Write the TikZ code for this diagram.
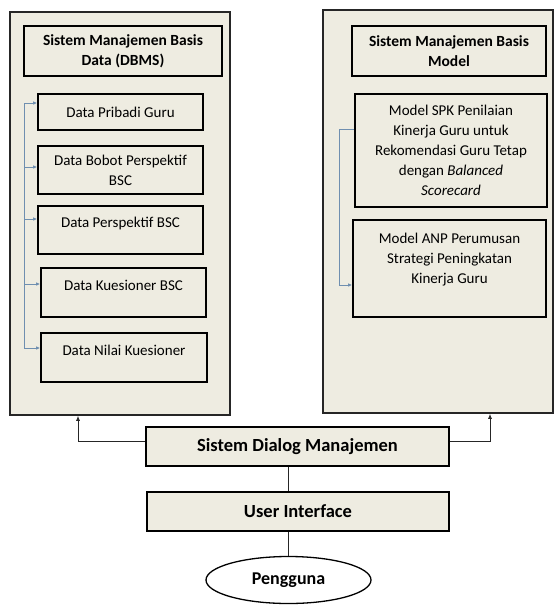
\documentclass[tikz,border=0pt]{standalone}
\usepackage{fontspec}
\setmainfont{Carlito}
\usepackage{tikz}
\usetikzlibrary{positioning,arrows.meta,shapes.geometric}
\definecolor{beige}{HTML}{EEECE1}
\definecolor{frame}{HTML}{262626}
\definecolor{steel}{HTML}{6F8FB0}
\newcommand{\fTitle}{\fontsize{15.5}{20}\selectfont}
\newcommand{\fText}{\fontsize{15}{20}\selectfont}
\newcommand{\fMain}{\fontsize{18.5}{22}\selectfont}

\begin{document}
\begin{tikzpicture}[x=1pt,y=-1pt,
  panel/.style={draw=frame,fill=beige,line width=1.6pt,inner sep=0pt},
  box/.style={draw=black,fill=beige,line width=1.6pt,align=center,inner sep=0pt,font=\fText},
  head/.style={box,font=\fTitle\bfseries,minimum height=50pt},
  raised/.style={text depth=15pt},
  link/.style={draw=steel,line width=0.8pt,{Latex[length=4pt,width=3.5pt]}-},
  up/.style={draw=frame,line width=0.8pt,-{Latex[length=5pt,width=4pt]}}]
  \useasboundingbox (0,0) rectangle (554,605);
  % two panels
  \node[panel,minimum width=220pt,minimum height=403pt] (dbms) at (120,213.5) {};
  \node[panel,minimum width=230pt,minimum height=403pt] (mbms) at (438,211.5) {};
  \node[head,minimum width=198pt] (dbmshead) at (123,51) {Sistem Manajemen Basis\\Data (DBMS)};
  \node[head,minimum width=194pt] (mbmshead) at (449,51) {Sistem Manajemen Basis\\Model};
  % data boxes
  \node[box,minimum width=165pt,minimum height=36pt] (pribadi) at (120.5,112) {Data Pribadi Guru};
  \node[box,minimum width=165pt,minimum height=48pt] (bobot) at (120.5,170) {Data Bobot Perspektif\\BSC};
  \node[box,raised,minimum width=165pt,minimum height=48pt] (persp) at (120.5,230) {Data Perspektif BSC};
  \node[box,raised,minimum width=165pt,minimum height=49pt] (kues) at (123.5,292.5) {Data Kuesioner BSC};
  \node[box,raised,minimum width=166pt,minimum height=49pt] (nilai) at (124,357.5) {Data Nilai Kuesioner};
  % model boxes
  \node[box,minimum width=192pt,minimum height=113pt] (spk) at (451,150.5)
    {Model SPK Penilaian\\Kinerja Guru untuk\\Rekomendasi Guru Tetap\\dengan \textit{Balanced}\\\textit{Scorecard}};
  \node[box,raised,text depth=21pt,minimum width=193pt,minimum height=97pt] (anp) at (449.5,268.5)
    {Model ANP Perumusan\\Strategi Peningkatan\\Kinerja Guru};
  \draw[link] ([yshift=9pt]pribadi.west) -- ++(-13,0) coordinate (ltop);
  \draw[link] ([yshift=3pt]bobot.west) -| (ltop);
  \draw[link] ([yshift=11pt]persp.west) -| (ltop);
  \draw[link] ([yshift=8.5pt]kues.west) -| (ltop);
  \draw[link] ([yshift=9.5pt]nilai.west) -| (ltop);
  \draw[link,-{Latex[length=4pt,width=3.5pt]}] ([yshift=21.5pt]spk.west) -- ++(-15,0) |- ([yshift=-16.5pt]anp.west);
  % bottom part
  \node[box,font=\fMain\bfseries,minimum width=303pt,minimum height=39pt] (dialog) at (297.5,446.5) {Sistem Dialog Manajemen};
  \node[box,font=\fMain\bfseries,minimum width=302pt,minimum height=39pt] (ui) at (298,511.5) {User Interface};
  \node[ellipse,draw=black,line width=1.3pt,fill=white,minimum width=165pt,minimum height=47pt,inner sep=0pt,font=\fontsize{18}{22}\selectfont\bfseries] (user) at (288.5,580) {Pengguna};
  \draw[draw=frame,line width=0.8pt] (user |- dialog.south) -- (user |- ui.north);
  \draw[draw=frame,line width=0.8pt] (user |- ui.south) -- (user.north);
  \draw[up] ([yshift=5.5pt]dialog.west) -| ([xshift=-42pt]dbms.south);
  \draw[up] ([yshift=5.5pt]dialog.east) -| ([xshift=52pt]mbms.south);
\end{tikzpicture}
\end{document}
